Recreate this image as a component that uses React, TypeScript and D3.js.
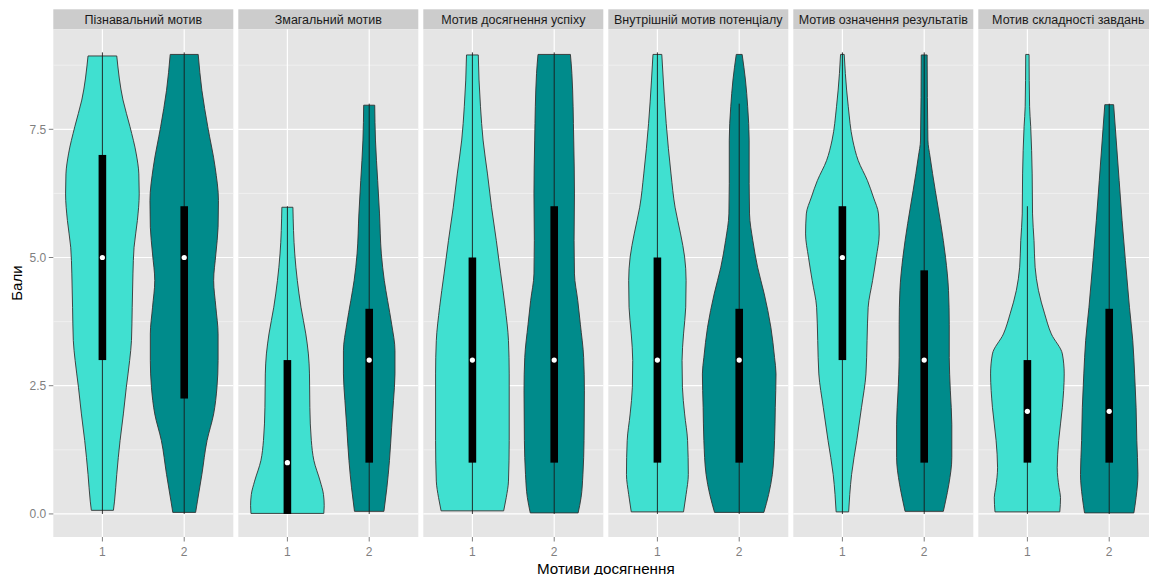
import React from "react";
import * as d3 from "d3";

// Facet titles
const panels = [
  "Пізнавальний мотив",
  "Змагальний мотив",
  "Мотив досягнення успіху",
  "Внутрішній мотив потенціалу",
  "Мотив означення результатів",
  "Мотив складності завдань",
];
const groups = ["1", "2"];
const yTicks = [0, 2.5, 5, 7.5];
const yMinor = [1.25, 3.75, 6.25, 8.75];
const groupColors = ["#40E0D0", "#008B8B"];

// Violin profiles: [score, relative half-width]
const p1g1 = [[0.07,0.3],[0.25,0.33],[0.77,0.39],[1.43,0.48],[1.95,0.57],[2.47,0.65],[2.99,0.74],[3.38,0.79],[4.03,0.81],[4.68,0.83],[5.2,0.86],[5.72,0.95],[6.24,1.0],[6.63,0.99],[7.02,0.92],[7.55,0.75],[8.07,0.56],[8.93,0.39]];
const p1g2 = [[0.03,0.31],[0.25,0.36],[0.77,0.48],[1.43,0.62],[1.95,0.8],[2.47,0.89],[2.99,0.92],[3.51,0.92],[4.03,0.86],[4.55,0.8],[5.07,0.86],[5.59,0.92],[6.11,0.93],[6.76,0.84],[7.55,0.64],[8.26,0.48],[8.96,0.38]];
const p2g1 = [[0.01,0.99],[0.16,1.0],[0.38,0.98],[0.64,0.89],[1.04,0.72],[1.43,0.65],[2.08,0.61],[2.73,0.6],[3.12,0.57],[3.51,0.5],[4.03,0.37],[4.55,0.27],[5.07,0.2],[5.98,0.15]];
const p2g2 = [[0.05,0.4],[0.51,0.48],[1.04,0.55],[1.69,0.61],[2.21,0.66],[2.73,0.7],[3.18,0.7],[3.7,0.61],[4.16,0.5],[4.55,0.41],[5.07,0.33],[5.85,0.28],[6.5,0.23],[7.29,0.17],[7.97,0.15]];
const p3g1 = [[0.06,0.85],[0.32,0.92],[0.64,0.98],[1.43,1.0],[2.73,1.0],[3.38,0.98],[4.03,0.89],[4.68,0.77],[5.33,0.65],[5.98,0.52],[6.63,0.41],[7.29,0.29],[7.94,0.22],[8.46,0.18],[8.95,0.16]];
const p3g2 = [[0.02,0.65],[0.32,0.73],[0.77,0.78],[1.43,0.81],[2.4,0.82],[3.05,0.8],[3.7,0.71],[4.16,0.64],[4.68,0.55],[5.33,0.54],[6.24,0.55],[7.29,0.53],[8.59,0.48],[8.96,0.44]];
const p4g1 = [[0.04,0.71],[0.38,0.78],[0.77,0.84],[1.43,0.82],[1.95,0.74],[2.47,0.68],[2.99,0.67],[3.51,0.71],[4.03,0.77],[4.55,0.78],[5.01,0.74],[5.46,0.63],[5.98,0.48],[6.63,0.37],[7.61,0.24],[8.46,0.16],[8.96,0.12]];
const p4g2 = [[0.03,0.67],[0.38,0.8],[0.77,0.9],[1.43,0.96],[2.08,0.98],[2.73,1.0],[3.05,0.96],[3.64,0.86],[4.29,0.68],[4.81,0.5],[5.33,0.37],[5.85,0.28],[6.44,0.27],[7.29,0.27],[7.94,0.23],[8.46,0.17],[8.96,0.08]];
const p5g1 = [[0.04,0.17],[0.38,0.2],[0.77,0.25],[1.43,0.39],[2.08,0.52],[2.73,0.64],[3.38,0.67],[4.03,0.7],[4.55,0.82],[5.0,0.92],[5.46,1.0],[5.85,0.98],[6.18,0.84],[6.5,0.68],[6.89,0.43],[7.29,0.28],[7.94,0.16],[8.59,0.08],[8.96,0.05]];
const p5g2 = [[0.05,0.52],[0.25,0.58],[0.58,0.67],[1.1,0.75],[1.75,0.75],[2.4,0.71],[3.05,0.68],[3.7,0.68],[4.36,0.66],[5.0,0.58],[5.66,0.45],[6.31,0.3],[6.96,0.16],[7.29,0.1],[8.95,0.08]];
const p6g1 = [[0.04,0.88],[0.32,0.9],[0.51,0.86],[0.9,0.81],[1.43,0.85],[2.08,0.95],[2.73,1.0],[3.12,0.95],[3.51,0.65],[3.9,0.47],[4.36,0.3],[4.81,0.21],[5.33,0.18],[5.85,0.14],[6.63,0.13],[7.55,0.09],[7.94,0.06],[8.96,0.045]];
const p6g2 = [[0.02,0.67],[0.32,0.73],[0.77,0.78],[1.43,0.75],[2.08,0.73],[2.73,0.69],[3.38,0.64],[4.03,0.55],[4.94,0.44],[5.72,0.35],[6.5,0.27],[7.29,0.19],[7.98,0.12]];
const violins = [[p1g1, p1g2], [p2g1, p2g2], [p3g1, p3g2], [p4g1, p4g2], [p5g1, p5g2], [p6g1, p6g2]];

// Box statistics per panel: [group1, group2]
const whiskerLow = [[0, 0], [0, 0], [0, 0], [0, 0], [0, 0], [0, 0]];
const whiskerHigh = [[9, 9], [6, 8], [9, 9], [9, 8], [9, 9], [6, 8]];
const q1 = [[3, 2.25], [0, 1], [1, 1], [1, 1], [3, 1], [1, 1]];
const medians = [[5, 5], [1, 3], [3, 3], [3, 3], [5, 3], [2, 2]];
const q3 = [[7, 6], [3, 4], [5, 6], [5, 4], [6, 4.75], [3, 4]];

const W = 1149;
const H = 575;
const left = 53.3;
const panelW = 180;
const gap = 5;
const stripTop = 9.3;
const stripH = 20;
const plotTop = stripTop + stripH;
const plotBottom = 537;
const font = "'Liberation Sans', Arial, sans-serif";

export default function App() {
  const y = d3.scaleLinear().domain([-0.45, 9.45]).range([plotBottom, plotTop]);
  const totalRight = left + panels.length * panelW + (panels.length - 1) * gap;
  return (
    <svg
      width={W}
      height={H}
      style={{ position: "absolute", left: 0, top: 0, display: "block", background: "#fff" }}
      fontFamily={font}
    >
      {panels.map((name, pi) => {
        const x0 = left + pi * (panelW + gap);
        const x = d3.scaleLinear().domain([0.4, 2.6]).range([x0, x0 + panelW]);
        const unit = x(1) - x(0);
        return (
          <g key={pi}>
            <rect x={x0} y={stripTop} width={panelW} height={stripH} fill="#CCCCCC" />
            <text x={x0 + panelW / 2} y={stripTop + 14.2} textAnchor="middle" fontSize={12.5} fill="#1a1a1a">
              {name}
            </text>
            <rect x={x0} y={plotTop} width={panelW} height={plotBottom - plotTop} fill="#E5E5E5" />
            {yMinor.map((t) => (
              <line key={"m" + t} x1={x0} x2={x0 + panelW} y1={y(t)} y2={y(t)} stroke="#F2F2F2" strokeWidth={0.8} />
            ))}
            {yTicks.map((t) => (
              <line key={"M" + t} x1={x0} x2={x0 + panelW} y1={y(t)} y2={y(t)} stroke="#FFFFFF" strokeWidth={1.2} />
            ))}
            {groups.map((g, gi) => (
              <line key={"v" + g} x1={x(gi + 1)} x2={x(gi + 1)} y1={plotTop} y2={plotBottom} stroke="#FFFFFF" strokeWidth={1.2} />
            ))}
            {groups.map((g, gi) => {
              const cx = x(gi + 1);
              const prof = violins[pi][gi];
              const area = d3
                .area<number[]>()
                .y((d) => y(d[0]))
                .x0((d) => cx - d[1] * 0.45 * unit)
                .x1((d) => cx + d[1] * 0.45 * unit)
                .curve(d3.curveMonotoneY);
              const bw = 7.6;
              return (
                <g key={"g" + g}>
                  <path d={area(prof) || ""} fill={groupColors[gi]} stroke="#333333" strokeWidth={0.9} />
                  <line x1={cx} x2={cx} y1={y(whiskerLow[pi][gi])} y2={y(whiskerHigh[pi][gi])} stroke="#1a1a1a" strokeWidth={0.9} />
                  <rect
                    x={cx - bw / 2}
                    y={y(q3[pi][gi])}
                    width={bw}
                    height={y(q1[pi][gi]) - y(q3[pi][gi])}
                    fill="#000000"
                  />
                  <circle cx={cx} cy={y(medians[pi][gi])} r={2.6} fill="#FFFFFF" />
                </g>
              );
            })}
            {groups.map((g, gi) => (
              <g key={"xt" + g}>
                <line x1={x(gi + 1)} x2={x(gi + 1)} y1={plotBottom} y2={plotBottom + 4.5} stroke="#7F7F7F" strokeWidth={1} />
                <text x={x(gi + 1)} y={plotBottom + 19} textAnchor="middle" fontSize={12} fill="#7F7F7F">
                  {g}
                </text>
              </g>
            ))}
          </g>
        );
      })}
      {yTicks.map((t) => (
        <g key={"yt" + t}>
          <line x1={left - 4.5} x2={left} y1={y(t)} y2={y(t)} stroke="#7F7F7F" strokeWidth={1} />
          <text x={left - 7} y={y(t) + 4.2} textAnchor="end" fontSize={12} fill="#7F7F7F">
            {t.toFixed(1)}
          </text>
        </g>
      ))}
      <text
        transform={`translate(22,${(plotTop + plotBottom) / 2}) rotate(-90)`}
        textAnchor="middle"
        fontSize={15}
        fill="#000"
      >
        Бали
      </text>
      <text x={(left + totalRight) / 2} y={573.5} textAnchor="middle" fontSize={15.2} fill="#000">
        Мотиви досягнення
      </text>
    </svg>
  );
}
